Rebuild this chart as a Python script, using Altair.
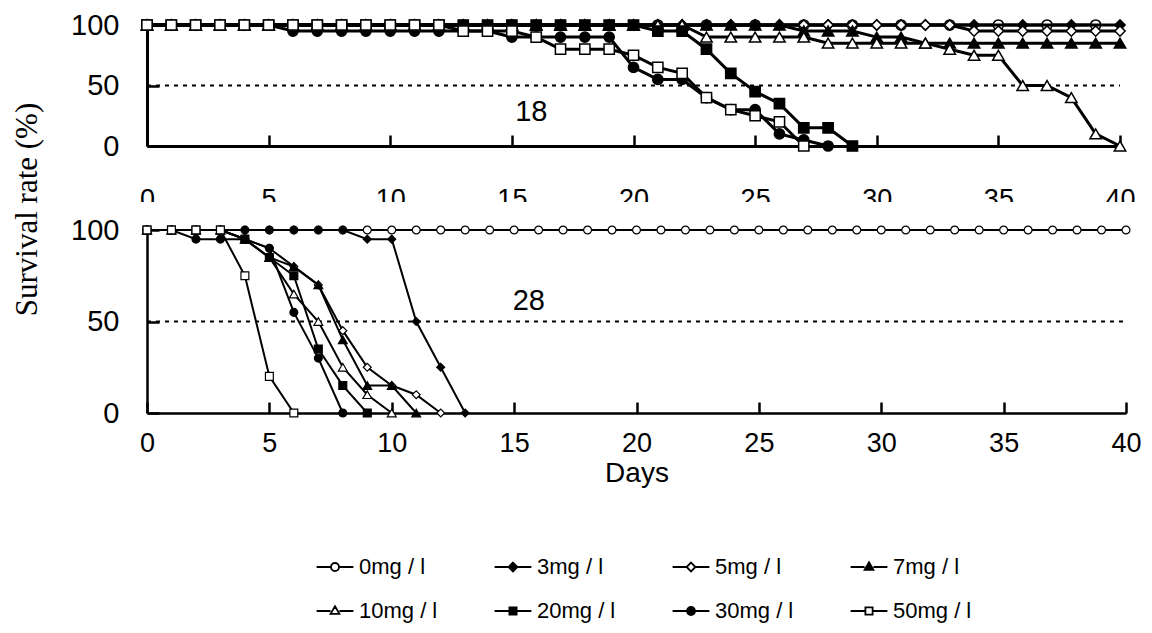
import altair as alt
import pandas as pd

# ---------------- data ----------------
LABELS = ["0mg / l", "3mg / l", "5mg / l", "7mg / l", "10mg / l", "20mg / l", "30mg / l", "50mg / l"]
SHAPES = ["circle", "diamond", "diamond", "triangle-up", "triangle-up", "square", "circle", "square"]
FILLS = ["white", "black", "white", "black", "white", "black", "black", "white"]
STROKES = ["black", "black", "black", "black", "black", "black", "black", "black"]
TICKS = [0, 5, 10, 15, 20, 25, 30, 35, 40]
Y_TICKS = [0, 50, 100]
TOP_NOTE = "18"
BOTTOM_NOTE = "28"

# upper panel
TOP_D0 = [0, 1, 3, 5, 7, 9, 11, 13, 15, 17, 19, 21, 23, 25, 27, 29, 31, 33, 35, 37, 39]
TOP_V0 = [100, 100, 100, 100, 100, 100, 100, 100, 100, 100, 100, 100, 100, 100, 100, 100, 100, 100, 100, 100, 100]
TOP_D3 = [0, 2, 4, 6, 8, 10, 12, 14, 16, 18, 20, 22, 24, 26, 28, 30, 32, 34, 36, 38, 40]
TOP_V3 = [100, 100, 100, 100, 100, 100, 100, 100, 100, 100, 100, 100, 100, 100, 100, 100, 100, 100, 100, 100, 100]
DAYS_41 = [0, 1, 2, 3, 4, 5, 6, 7, 8, 9, 10, 11, 12, 13, 14, 15, 16, 17, 18, 19, 20,
           21, 22, 23, 24, 25, 26, 27, 28, 29, 30, 31, 32, 33, 34, 35, 36, 37, 38, 39, 40]
TOP_V5 = [100, 100, 100, 100, 100, 100, 100, 100, 100, 100, 100, 100, 100, 100, 100, 100, 100,
          100, 100, 100, 100, 100, 100, 100, 100, 100, 100, 100, 100, 100, 100, 100, 100, 100,
          95, 95, 95, 95, 95, 95, 95]
TOP_V7 = [100, 100, 100, 100, 100, 100, 100, 100, 100, 100, 100, 100, 100, 100, 100, 100, 100,
          100, 100, 100, 100, 100, 100, 100, 100, 100, 100,
          95, 95, 95, 90, 90, 85, 85, 85, 85, 85, 85, 85, 85, 85]
TOP_V10 = [100, 100, 100, 100, 100, 100, 100, 100, 100, 100, 100, 100, 100, 100, 100, 100, 100,
           100, 100, 100, 100, 100, 100,
           90, 90, 90, 90, 90, 85, 85, 85, 85, 85, 80, 75, 75, 50, 50, 40, 10, 0]
TOP_D20 = DAYS_41[:30]
TOP_V20 = [100, 100, 100, 100, 100, 100, 100, 100, 100, 100, 100, 100, 100, 100, 100, 100, 100,
           100, 100, 100, 100, 95, 95, 80, 60, 45, 35, 15, 15, 0]
TOP_D30 = DAYS_41[:29]
TOP_V30 = [100, 100, 100, 100, 100, 100, 95, 95, 95, 95, 95, 95, 95, 95, 95,
           90, 90, 90, 90, 90, 65, 55, 55, 40, 30, 30, 10, 5, 0]
TOP_D50 = DAYS_41[:28]
TOP_V50 = [100, 100, 100, 100, 100, 100, 100, 100, 100, 100, 100, 100, 100,
           95, 95, 95, 90, 80, 80, 80, 75, 65, 60, 40, 30, 25, 20, 0]

# lower panel
BOT_V0 = [100, 100, 100, 100, 100, 100, 100, 100, 100, 100, 100, 100, 100, 100, 100, 100, 100,
          100, 100, 100, 100, 100, 100, 100, 100, 100, 100, 100, 100, 100, 100, 100, 100, 100,
          100, 100, 100, 100, 100, 100, 100]
BOT_V3 = [100, 100, 100, 100, 100, 100, 100, 100, 100, 95, 95, 50, 25, 0]
BOT_V5 = [100, 100, 100, 100, 95, 90, 80, 70, 45, 25, 15, 10, 0]
BOT_V7 = [100, 100, 100, 100, 95, 85, 80, 70, 40, 15, 15, 0]
BOT_V10 = [100, 100, 100, 100, 95, 85, 65, 50, 25, 10, 0]
BOT_V20 = [100, 100, 100, 100, 95, 85, 75, 35, 15, 0]
BOT_V30 = [100, 100, 95, 95, 95, 90, 55, 30, 0]
BOT_V50 = [100, 100, 100, 100, 75, 20, 0]

TOP_SERIES = [(TOP_D0, TOP_V0), (TOP_D3, TOP_V3), (DAYS_41, TOP_V5), (DAYS_41, TOP_V7),
              (DAYS_41, TOP_V10), (TOP_D20, TOP_V20), (TOP_D30, TOP_V30), (TOP_D50, TOP_V50)]
BOT_SERIES = [BOT_V0, BOT_V3, BOT_V5, BOT_V7, BOT_V10, BOT_V20, BOT_V30, BOT_V50]

# legend symbols: short line with marker in the middle
LEGEND_PATHS = [
    "M-4.6,0H-1M1,0H4.6M-1,0A1,1,0,1,0,1,0A1,1,0,1,0,-1,0Z",
    "M-4.6,0H-1.1M1.1,0H4.6M0,-1.1L1.1,0L0,1.1L-1.1,0Z",
    "M-4.6,0H-1.1M1.1,0H4.6M0,-1.1L1.1,0L0,1.1L-1.1,0Z",
    "M-4.6,0H-1.1M1.1,0H4.6M0,-1.2L1.1,0.7L-1.1,0.7Z",
    "M-4.6,0H-1.1M1.1,0H4.6M0,-1.2L1.1,0.7L-1.1,0.7Z",
    "M-4.6,0H-0.9M0.9,0H4.6M-0.9,-0.9H0.9V0.9H-0.9Z",
    "M-4.6,0H-1M1,0H4.6M-1,0A1,1,0,1,0,1,0A1,1,0,1,0,-1,0Z",
    "M-4.6,0H-0.9M0.9,0H4.6M-0.9,-0.9H0.9V0.9H-0.9Z",
]

# ---------------- styling ----------------
SANS = "Liberation Sans"
SERIF = "Liberation Serif"
W_TOP, H_TOP = 973, 121
W_BOT, H_BOT = 979, 183
TICK_PX = 11

one = pd.DataFrame({"k": [0]})


def panel(series_list, width, height, lw, msize, msw, note, xaxis, yaxis, note_pos, mask):
    xs = alt.Scale(domain=[0, 40], nice=False, zero=False)
    ys = alt.Scale(domain=[0, 100], nice=False, zero=False)
    layers = []
    # dotted 50% line
    layers.append(
        alt.Chart(one).mark_rule(color="black", strokeWidth=2, strokeDash=[4, 5]).encode(
            x=alt.XDatum(0, scale=xs, axis=xaxis), x2=alt.datum(40),
            y=alt.YDatum(50, scale=ys, axis=yaxis),
        )
    )
    for i, (days, vals) in enumerate(series_list):
        df = pd.DataFrame({"day": days, "value": vals})
        base = alt.Chart(df).encode(
            x=alt.X("day:Q", scale=xs, axis=xaxis),
            y=alt.Y("value:Q", scale=ys, axis=yaxis),
        )
        layers.append(base.mark_line(color="black", strokeWidth=lw))
        sz = msize * 1.25 if SHAPES[i] == "triangle-up" else msize
        layers.append(base.mark_point(shape=SHAPES[i], filled=True, fill=FILLS[i], stroke="black",
                                      strokeWidth=msw, size=sz, opacity=1))
    layers.append(
        alt.Chart(one).mark_text(text=note, font=SANS, fontSize=29, color="black").encode(
            x=alt.XDatum(note_pos[0], scale=xs, axis=xaxis),
            y=alt.YDatum(note_pos[1], scale=ys, axis=yaxis),
        )
    )
    if mask:
        layers.append(
            alt.Chart(one).mark_rect(color="white").encode(
                x=alt.value(-20), x2=alt.value(width + 18),
                y=alt.value(177), y2=alt.value(203),
            )
        )
    return alt.layer(*layers).properties(width=width, height=height)


def x_axis(height, **kw):
    # grid lines dashed so that only a short inward stub next to the axis is drawn
    return alt.Axis(values=TICKS, ticks=False, tickSize=0, grid=True, gridColor="black",
                    gridWidth=2.5, gridOpacity=1, gridDash=[TICK_PX, height - TICK_PX],
                    gridDashOffset=TICK_PX, domainColor="black", labelFont=SANS,
                    labelFontSize=27, labelColor="black", labelFlush=False, zindex=0, **kw)


def y_axis(width, **kw):
    return alt.Axis(values=Y_TICKS, ticks=False, tickSize=0, grid=True, gridColor="black",
                    gridWidth=2.5, gridOpacity=1, gridDash=[TICK_PX + 1, width + 10],
                    domainColor="black", labelFont=SANS, labelFontSize=29, labelColor="black",
                    labelPadding=28, zindex=0, **kw)


top_xaxis = x_axis(H_TOP, domainWidth=3, labelPadding=40, title=None)
top_yaxis = y_axis(W_TOP, domainWidth=3, title=None)
bot_xaxis = x_axis(H_BOT, domainWidth=2.5, labelPadding=17, title="Days", titleFont=SANS,
                   titleFontSize=28, titleFontWeight="normal", titleColor="black",
                   titleBaseline="alphabetic", titleY=68)
bot_yaxis = y_axis(W_BOT, domainWidth=2.5, title="Survival rate (%)", titleFont=SERIF,
                   titleFontSize=31, titleFontWeight="normal", titleColor="black", titleX=-120,
                   titleY=-21, titleAlign="center", titleBaseline="middle")

top = panel(TOP_SERIES, W_TOP, H_TOP, 3, 105, 1.5, TOP_NOTE, top_xaxis, top_yaxis, (15.8, 28), True)
bottom = panel([(DAYS_41[:len(v)], v) for v in BOT_SERIES], W_BOT, H_BOT, 2, 62, 1.2, BOTTOM_NOTE,
               bot_xaxis, bot_yaxis, (15.6, 61), False)

legend_spec = alt.Legend(
    orient="none", legendX=161, legendY=531, columns=4, direction="horizontal", title=None,
    symbolSize=64, symbolStrokeColor="black", symbolStrokeWidth=1.8, symbolOffset=16,
    symbolOpacity=1, labelOffset=13, labelFont=SANS, labelFontSize=22, labelColor="black",
    columnPadding=48, rowPadding=22, padding=0, labelLimit=300,
)
legend_df = pd.DataFrame({"series": LABELS})
legend_layer = alt.Chart(legend_df).mark_point(opacity=0, filled=False, strokeWidth=1.8).encode(
    shape=alt.Shape("series:N", scale=alt.Scale(domain=LABELS, range=LEGEND_PATHS), legend=legend_spec),
    fill=alt.Fill("series:N", scale=alt.Scale(domain=LABELS, range=FILLS), legend=legend_spec),
    stroke=alt.Stroke("series:N", scale=alt.Scale(domain=LABELS, range=STROKES), legend=legend_spec),
)
bottom = alt.layer(bottom, legend_layer)

chart = alt.vconcat(top, bottom, spacing=84, bounds="flush").properties(
    padding={"left": 11, "top": 11, "right": 5, "bottom": 5},
    background="white",
).configure_view(strokeWidth=0)

chart.save("out.html", embed_options={"renderer": "svg", "actions": False})
